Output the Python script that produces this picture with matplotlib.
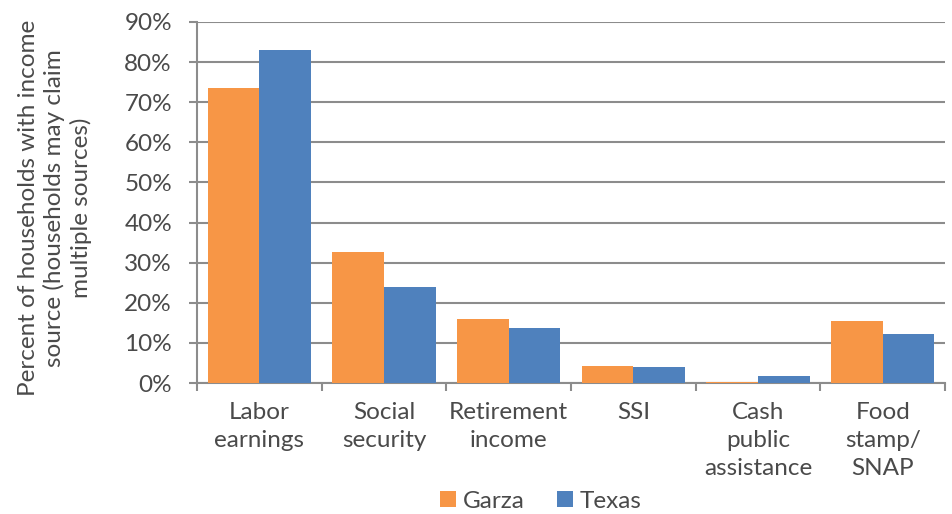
import numpy as np
import matplotlib.pyplot as plt
from matplotlib.ticker import MultipleLocator, FuncFormatter, FixedLocator

categories = ["Labor\nearnings", "Social\nsecurity", "Retirement\nincome", "SSI",
              "Cash\npublic\nassistance", "Food\nstamp/\nSNAP"]
garza = [73.5, 32.7, 15.9, 4.2, 0.3, 15.4]
texas = [83.0, 23.9, 13.6, 4.1, 1.75, 12.2]

orange = "#F79646"
blue = "#4F81BD"
grid_c = "#8C8C8C"
text_c = "#4A4A4A"

plt.rcParams['font.family'] = ['Lato', 'DejaVu Sans']
plt.rcParams['font.weight'] = 'normal'

fig = plt.figure(figsize=(9.53, 5.14), dpi=100)
ax = fig.add_axes([197 / 953, 1 - 383 / 514, (945 - 197) / 953, (383 - 22) / 514])

x = np.arange(len(categories))
w = 0.415
ax.bar(x - w / 2, garza, w, color=orange, label="Garza", zorder=3)
ax.bar(x + w / 2, texas, w, color=blue, label="Texas", zorder=3)

ax.set_xlim(-0.5, len(categories) - 0.5)
ax.set_ylim(0, 90)
ax.yaxis.set_major_locator(MultipleLocator(10))
ax.yaxis.set_major_formatter(FuncFormatter(lambda v, p: f"{v:.0f}%"))
ax.grid(axis='y', color=grid_c, linewidth=1.5, zorder=0)

ax.set_xticks(x)
ax.set_xticklabels(categories, fontsize=17.5, color=text_c, linespacing=1.4)
ax.tick_params(axis='x', length=0, pad=14)
ax.xaxis.set_minor_locator(FixedLocator(np.arange(-0.5, len(categories), 1.0)))
ax.tick_params(axis='x', which='minor', length=6, width=1.5, color=grid_c)
ax.tick_params(axis='y', length=6, width=1.5, color=grid_c, labelsize=17.5,
               labelcolor=text_c, pad=12)

for s in ['top', 'right']:
    ax.spines[s].set_visible(False)
for s in ['left', 'bottom']:
    ax.spines[s].set_color(grid_c)
    ax.spines[s].set_linewidth(1.5)

fig.text(55 / 953, 1 - 208 / 514,
         "Percent of households with income\nsource (households may claim\nmultiple sources)",
         rotation=90, ha='center', va='center', fontsize=17.5, color=text_c,
         linespacing=1.25)

leg = fig.legend(loc='center', bbox_to_anchor=(541 / 953, 1 - 501 / 514), ncol=2,
                 frameon=False, fontsize=17.5, handlelength=0.65, handleheight=0.65,
                 handletextpad=0.3, columnspacing=1.3)
for t in leg.get_texts():
    t.set_color(text_c)

fig.savefig("out.png", dpi=100)
